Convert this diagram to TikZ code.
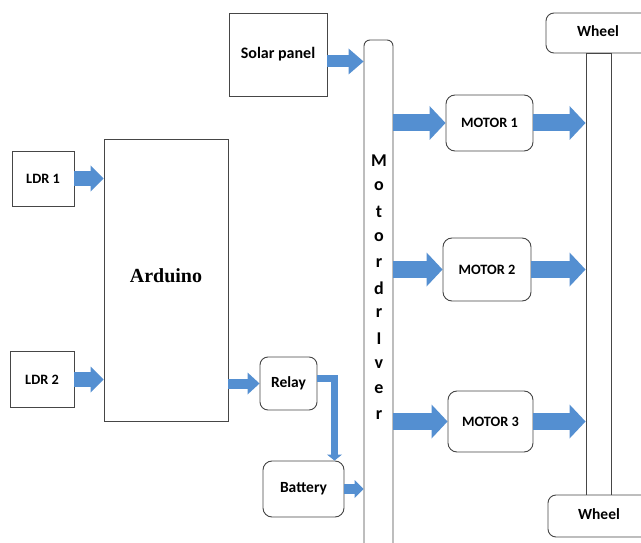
\documentclass[tikz,border=0pt]{standalone}
\usepackage{fontspec}
\setmainfont{Carlito}
\newfontfamily\ardfont{Liberation Serif}
\usetikzlibrary{arrows.meta}

\definecolor{arrowblue}{RGB}{84,143,209}
\definecolor{edgegray}{RGB}{70,70,70}

\tikzset{
  block/.style={draw=edgegray, line width=0.9pt, inner sep=0pt, fill=white,
    font=\fontsize{15.5pt}{18pt}\selectfont\bfseries},
  roundblock/.style={block, rounded corners=9pt},
  smalltext/.style={font=\fontsize{14.3pt}{17pt}\selectfont\bfseries},
  blockarrow/.style n args={3}{draw=arrowblue, line width=#1,
    -{Triangle[length=#2, width=#3, line width=0pt]}},
}

\begin{document}
\begin{tikzpicture}[x=1pt, y=-1pt]
% canvas in reference pixels, y pointing down
\path[use as bounding box, clip] (0,0) rectangle (641,543);

% Left side: sensors and controller
\node[block, smalltext, minimum width=62, minimum height=55] (ldr1) at (43,178.5) {LDR 1};
\node[block, smalltext, minimum width=64, minimum height=56] (ldr2) at (42,379.5) {LDR 2};
\node[block, minimum width=124, minimum height=282,
      font=\ardfont\fontsize{20pt}{24pt}\selectfont\bfseries] (ard) at (166,280)
      {\raisebox{8pt}{Arduino}};

% Power side
\node[block, font=\fontsize{16pt}{19pt}\selectfont\bfseries, minimum width=98, minimum height=83] (solar) at (278,54.5) {\raisebox{4pt}{Solar panel}};
\node[roundblock, rounded corners=8pt, minimum width=57, minimum height=53] (relay) at (288.5,383.5) {Relay};
\node[roundblock, minimum width=81, minimum height=56] (batt) at (303.5,489) {Battery};

% Motor driver column, letters stacked
\node[block, rounded corners=6pt, minimum width=29, minimum height=520] (drv) at (378.5,300) {};
\foreach \ch [count=\i from 0] in {M,o,t,o,r,d,r,I,v,e,r}
  \node[font=\fontsize{18pt}{20pt}\selectfont\bfseries] (drv\i) at (379,161+25.4*\i) {\ch};

% Motors
\node[roundblock, smalltext, minimum width=87, minimum height=56] (mot1) at (489.5,123) {MOTOR 1};
\node[roundblock, smalltext, minimum width=88, minimum height=63] (mot2) at (487,269.5) {MOTOR 2};
\node[roundblock, smalltext, minimum width=85, minimum height=61] (mot3) at (490.5,421.5) {MOTOR 3};

% Wheels and axle
\node[block, minimum width=25, minimum height=442] (axle) at (598.5,274) {};
\node[roundblock, rounded corners=8pt, minimum width=104, minimum height=40] (whtop) at (598,33) {\raisebox{3pt}{Wheel}};
\node[roundblock, rounded corners=8pt, minimum width=102, minimum height=42] (whbot) at (599,516) {\raisebox{3pt}{Wheel}};

% Arrows
\draw[blockarrow={15pt}{13pt}{26pt}] (ldr1.east) -- (ldr1.east -| ard.west);
\draw[blockarrow={15pt}{13pt}{26pt}] (ldr2.east) -- (ldr2.east -| ard.west);
\draw[blockarrow={12pt}{15pt}{26pt}] ([yshift=-7pt]solar.east) coordinate (sp) -- (sp -| drv.west);
\draw[blockarrow={10pt}{12pt}{22pt}] (ard.east |- relay.west) -- (relay.west);
\draw[blockarrow={7pt}{6pt}{15pt}, line join=miter]
  ([yshift=5pt]relay.east) -| ([xshift=31pt]batt.north);
\draw[blockarrow={10pt}{9pt}{18pt}] (batt.east) -- (batt.east -| drv.west);
\foreach \m in {1,2,3} {
  \draw[blockarrow={17pt}{16pt}{34pt}] (drv.east |- mot\m.west) -- (mot\m.west);
  \draw[blockarrow={17pt}{16pt}{34pt}] (mot\m.east) -- (mot\m.east -| axle.west);
}
\end{tikzpicture}
\end{document}
